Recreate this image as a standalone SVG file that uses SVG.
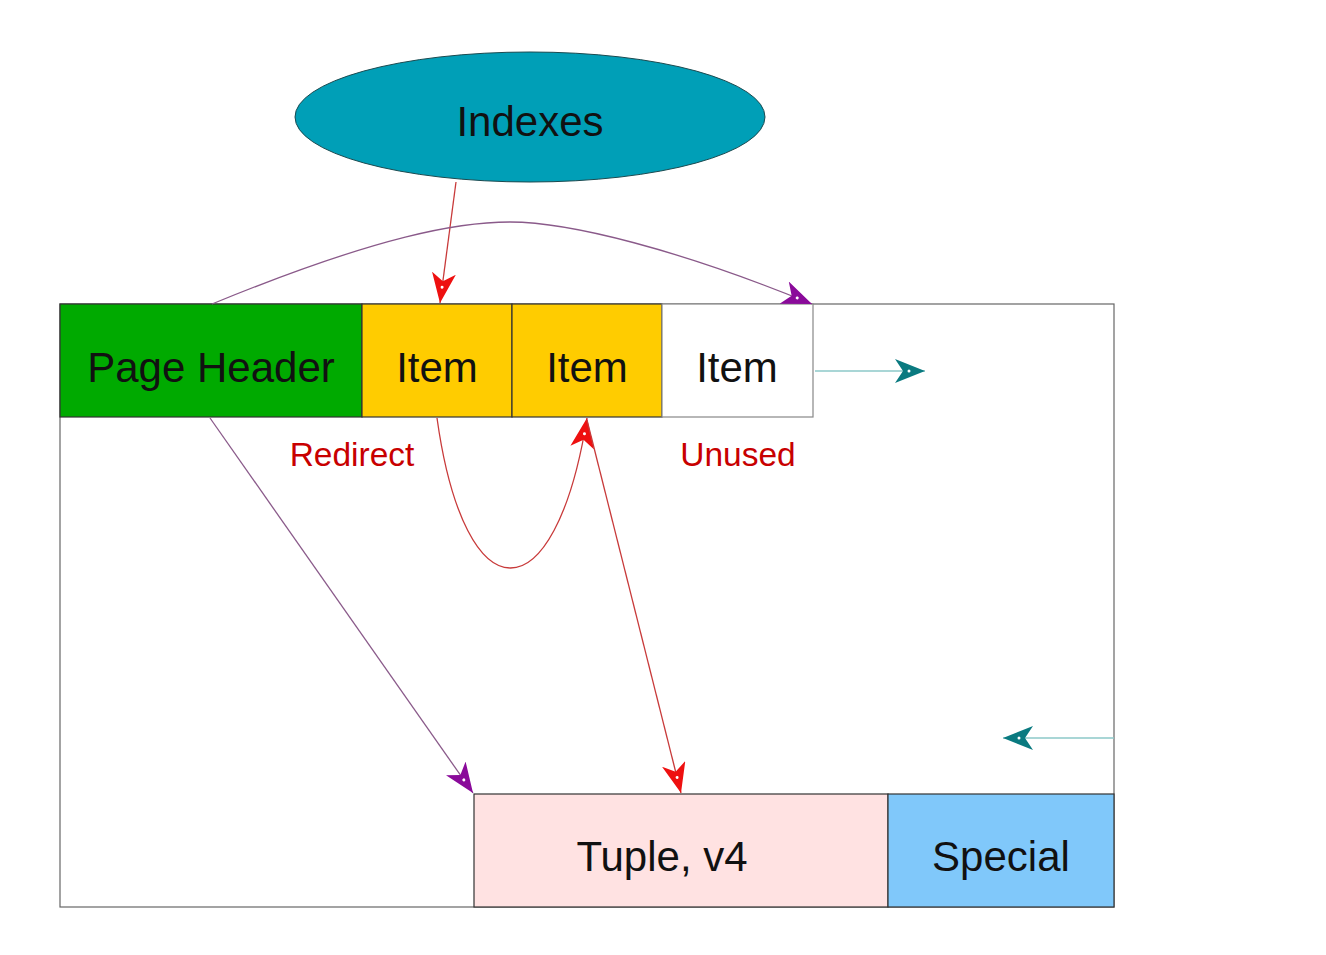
<svg xmlns="http://www.w3.org/2000/svg" width="1326" height="955" viewBox="0 0 1326 955">
  <style>
    .lbl { font-family: "Liberation Sans", Arial, sans-serif; font-size: 42px; fill: #111; text-anchor: middle; dominant-baseline: central; }
    .note { font-family: "Liberation Sans", Arial, sans-serif; font-size: 33.5px; fill: #c80000; text-anchor: middle; dominant-baseline: central; }
    .cell { stroke: #333; stroke-width: 1.2; }
    .red { fill: none; stroke: #c83a3a; stroke-width: 1.3; }
    .purple { fill: none; stroke: #8a5a8a; stroke-width: 1.3; }
    .teal { fill: none; stroke: #8cc8c8; stroke-width: 1.6; }
  </style>
  <defs>
    <marker id="ah-red" viewBox="0 0 30 24" refX="30" refY="12" markerWidth="30" markerHeight="24" markerUnits="userSpaceOnUse" orient="auto">
      <path d="M0,0 L30,12 L0,24 L8,12 z" fill="#ee1010"/>
      <circle cx="14" cy="12" r="1.5" fill="#fff"/>
    </marker>
    <marker id="ah-purple" viewBox="0 0 30 24" refX="30" refY="12" markerWidth="30" markerHeight="24" markerUnits="userSpaceOnUse" orient="auto">
      <path d="M0,0 L30,12 L0,24 L8,12 z" fill="#8a0a9a"/>
      <circle cx="14" cy="12" r="1.5" fill="#fff"/>
    </marker>
    <marker id="ah-teal" viewBox="0 0 30 24" refX="30" refY="12" markerWidth="32" markerHeight="24" markerUnits="userSpaceOnUse" orient="auto">
      <path d="M0,0 L30,12 L0,24 L8,12 z" fill="#0a7a80"/>
      <circle cx="14" cy="12" r="1.5" fill="#fff"/>
    </marker>
  </defs>

  <rect width="1326" height="955" fill="#fff"/>

  <!-- page outline -->
  <g id="page">
    <rect x="60" y="304" width="1054" height="603" fill="#fff" stroke="#666" stroke-width="1.2"/>
  </g>

  <g id="indexes">
    <ellipse cx="530" cy="117" rx="235" ry="65" fill="#009fb7" stroke="#1a4a50" stroke-width="1"/>
    <text class="lbl" x="530" y="121">Indexes</text>
  </g>

  <g id="page-header">
    <rect class="cell" x="60" y="304" width="302" height="113" fill="#00aa00"/>
    <text class="lbl" x="211" y="367">Page Header</text>
  </g>

  <g id="item-1">
    <rect class="cell" x="362" y="304" width="150" height="113" fill="#ffcc00"/>
    <text class="lbl" x="437" y="367">Item</text>
  </g>

  <g id="item-2">
    <rect class="cell" x="512" y="304" width="150" height="113" fill="#ffcc00"/>
    <text class="lbl" x="587" y="367">Item</text>
  </g>

  <g id="item-3">
    <rect x="662" y="304" width="151" height="113" fill="#fff" stroke="#888" stroke-width="1.2"/>
    <text class="lbl" x="737" y="367">Item</text>
  </g>

  <g id="tuple">
    <rect class="cell" x="474" y="794" width="414" height="113" fill="#ffe2e2"/>
    <text class="lbl" x="662" y="856">Tuple, v4</text>
  </g>

  <g id="special">
    <rect class="cell" x="888" y="794" width="226" height="113" fill="#80c8fa"/>
    <text class="lbl" x="1001" y="856">Special</text>
  </g>

  <g id="labels">
    <text class="note" x="352" y="454">Redirect</text>
    <text class="note" x="738" y="454">Unused</text>
  </g>

  <g id="connectors">
    <line class="red" x1="456" y1="182" x2="440" y2="303" marker-end="url(#ah-red)"/>
    <path class="purple" d="M212,304 C380,235 460,222 510,222 C570,222 680,250 812,304" marker-end="url(#ah-purple)"/>
    <line class="teal" x1="815" y1="371" x2="925" y2="371" marker-end="url(#ah-teal)"/>
    <line class="teal" x1="1114" y1="738" x2="1003" y2="738" marker-end="url(#ah-teal)"/>
    <line class="purple" x1="210" y1="418" x2="473" y2="793" marker-end="url(#ah-purple)"/>
    <path class="red" d="M437,418 C465,618 555,618 587,418" marker-end="url(#ah-red)"/>
    <line class="red" x1="587" y1="420" x2="681" y2="793" marker-end="url(#ah-red)"/>
  </g>
</svg>
